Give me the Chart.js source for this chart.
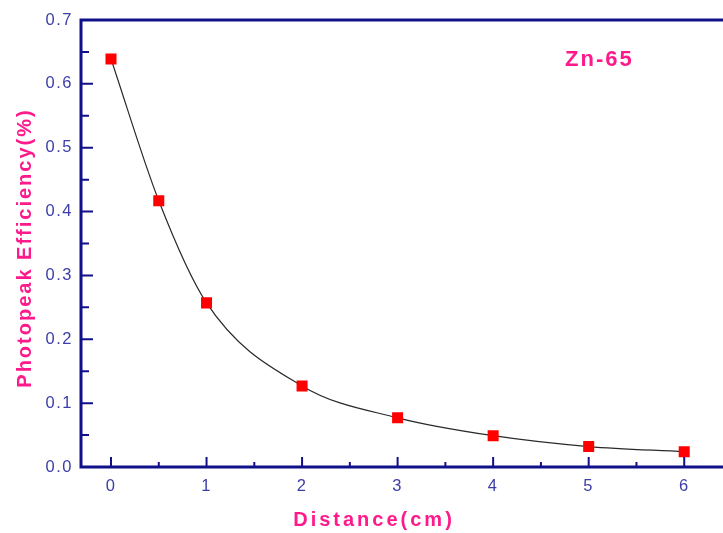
<!DOCTYPE html>
<html>
<head>
<meta charset="utf-8">
<title>Zn-65 Photopeak Efficiency</title>
<script src="https://cdn.jsdelivr.net/npm/chart.js@4.4.1/dist/chart.umd.min.js"></script>
<style>
  html, body { margin: 0; padding: 0; background: #fff; overflow: hidden; }
  #wrap { width: 723px; height: 533px; overflow: hidden; }
</style>
</head>
<body>
<div id="wrap"><canvas id="eff-chart" width="731" height="533"></canvas></div>
<script>
// Data
const distances = [0, 0.5, 1, 2, 3, 4, 5, 6];
const efficiency = [0.639, 0.417, 0.257, 0.127, 0.077, 0.049, 0.032, 0.024];
const xTicks = [0, 1, 2, 3, 4, 5, 6];
const yTicks = [0, 0.1, 0.2, 0.3, 0.4, 0.5, 0.6, 0.7];
const xMinorTicks = [0.5, 1.5, 2.5, 3.5, 4.5, 5.5];
const yMinorTicks = [0.05, 0.15, 0.25, 0.35, 0.45, 0.55, 0.65];

const AXIS = '#10108a';
const TICK_TEXT = '#3d3da8';
const PINK = '#ff1a8c';

// Frame, inward ticks, titles and the isotope label
const framePlugin = {
    id: 'frame',
    beforeDraw(chart) {
        chart.ctx.letterSpacing = '1.5px';
    },
    afterDraw(chart) {
        const ctx = chart.ctx;
        const area = chart.chartArea;
        const xs = chart.scales.x;
        const ys = chart.scales.y;
        ctx.save();
        ctx.strokeStyle = AXIS;
        ctx.lineWidth = 3;
        ctx.beginPath();
        ctx.moveTo(chart.width, area.top);
        ctx.lineTo(area.left, area.top);
        ctx.lineTo(area.left, area.bottom);
        ctx.lineTo(chart.width, area.bottom);
        ctx.stroke();

        ctx.lineWidth = 2;
        ctx.beginPath();
        yTicks.forEach(v => {
            const y = ys.getPixelForValue(v);
            ctx.moveTo(area.left, y);
            ctx.lineTo(area.left + 12, y);
        });
        yMinorTicks.forEach(v => {
            const y = ys.getPixelForValue(v);
            ctx.moveTo(area.left, y);
            ctx.lineTo(area.left + 8, y);
        });
        xTicks.forEach(v => {
            const x = xs.getPixelForValue(v);
            ctx.moveTo(x, area.bottom);
            ctx.lineTo(x, area.bottom - 10);
        });
        xMinorTicks.forEach(v => {
            const x = xs.getPixelForValue(v);
            ctx.moveTo(x, area.bottom);
            ctx.lineTo(x, area.bottom - 5);
        });
        ctx.stroke();

        ctx.fillStyle = PINK;
        ctx.textAlign = 'center';
        ctx.textBaseline = 'middle';
        ctx.letterSpacing = '3px';
        ctx.font = 'bold 20px "Liberation Sans", Arial, sans-serif';
        ctx.fillText('Distance(cm)', 374, 520);

        ctx.letterSpacing = '2px';
        ctx.translate(25, 248);
        ctx.rotate(-Math.PI / 2);
        ctx.fillText('Photopeak Efficiency(%)', 0, 0);
        ctx.restore();

        ctx.save();
        ctx.fillStyle = PINK;
        ctx.letterSpacing = '2px';
        ctx.font = 'bold 22px "Liberation Sans", Arial, sans-serif';
        ctx.textAlign = 'left';
        ctx.textBaseline = 'alphabetic';
        ctx.fillText('Zn-65', 565, 66);
        ctx.restore();
    }
};

const tickFont = { family: '"Liberation Sans", Arial, sans-serif', size: 16.5 };

new Chart(document.getElementById('eff-chart'), {
    type: 'line',
    data: {
        datasets: [{
            label: 'Zn-65',
            data: distances.map((d, i) => ({ x: d, y: efficiency[i] })),
            borderColor: '#2a2a2a',
            borderWidth: 1.2,
            cubicInterpolationMode: 'monotone',
            pointStyle: 'rect',
            pointRadius: 7.8,
            pointHoverRadius: 7.8,
            pointBorderWidth: 0,
            pointBackgroundColor: '#ff0000',
            pointBorderColor: '#ff0000',
            fill: false
        }]
    },
    options: {
        responsive: false,
        animation: false,
        devicePixelRatio: 1,
        layout: { padding: { top: 20, right: 0, left: 0, bottom: 0 } },
        plugins: {
            legend: { display: false },
            tooltip: { enabled: false }
        },
        scales: {
            x: {
                type: 'linear',
                min: -0.314,
                max: 6.408,
                grid: { display: false, drawTicks: false },
                border: { display: false },
                afterBuildTicks: scale => { scale.ticks = xTicks.map(v => ({ value: v })); },
                afterFit: scale => { scale.height = 66; },
                ticks: {
                    color: TICK_TEXT,
                    font: tickFont,
                    padding: 10,
                    maxRotation: 0,
                    callback: v => String(v)
                }
            },
            y: {
                type: 'linear',
                min: 0,
                max: 0.7,
                grid: { display: false, drawTicks: false },
                border: { display: false },
                afterBuildTicks: scale => { scale.ticks = yTicks.map(v => ({ value: v })); },
                afterFit: scale => { scale.width = 81; },
                ticks: {
                    color: TICK_TEXT,
                    font: tickFont,
                    padding: 8,
                    callback: v => Number(v).toFixed(1)
                }
            }
        }
    },
    plugins: [framePlugin]
});
</script>
</body>
</html>
